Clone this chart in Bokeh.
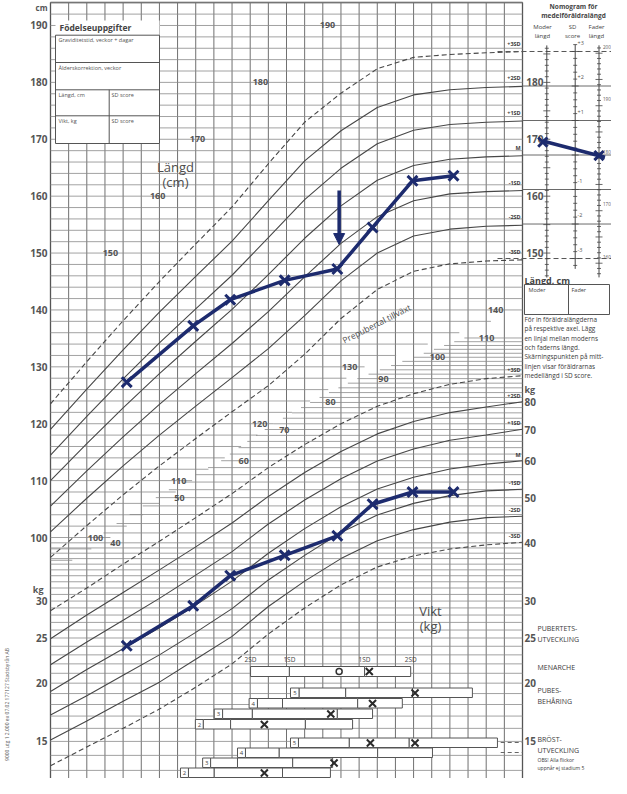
import numpy as np
from bokeh.plotting import figure
from bokeh.models import Range1d, LogScale, Arrow, NormalHead
from bokeh.embed import file_html
from bokeh.resources import INLINE
from bokeh.core.properties import value

# ---------------- data ----------------
ages = [5, 6, 7, 8, 9, 10, 11, 12, 13, 14, 15, 16, 17, 18]

# height reference curves (cm)
h_p3 = [123.5, 130.9, 138.1, 145.0, 151.6, 158.1, 165.7, 173.0, 178.1, 182.4, 184.4, 184.9, 185.2, 185.4]
h_p2 = [119.0, 126.1, 133.0, 139.6, 145.9, 152.1, 159.2, 166.2, 171.5, 175.6, 177.8, 178.7, 179.1, 179.3]
h_p1 = [114.5, 121.3, 127.9, 134.2, 140.2, 146.1, 152.7, 159.4, 164.9, 169.2, 171.6, 172.6, 173.0, 173.2]
h_m = [110.0, 116.5, 122.8, 128.8, 134.5, 140.1, 146.2, 152.6, 158.3, 162.8, 165.4, 166.5, 166.9, 167.1]
h_m1 = [105.5, 111.7, 117.7, 123.4, 128.8, 134.1, 139.7, 145.8, 151.7, 156.4, 159.2, 160.4, 160.8, 161.0]
h_m2 = [101.0, 106.9, 112.6, 118.0, 123.1, 128.1, 133.2, 139.0, 145.1, 150.0, 153.0, 154.2, 154.7, 154.9]
h_m3 = [96.5, 102.1, 107.5, 112.6, 117.4, 122.1, 126.7, 132.2, 138.5, 143.6, 146.8, 148.1, 148.6, 148.8]

# weight reference curves (kg)
w_p3 = [28.6, 32.0, 36.0, 40.3, 45.3, 51.0, 58.0, 65.0, 72.0, 78.5, 83.5, 87.5, 90.0, 91.3]
w_p2 = [24.9, 28.0, 31.3, 35.0, 39.2, 44.1, 50.3, 56.6, 62.8, 68.5, 72.8, 76.1, 78.2, 80.3]
w_p1 = [21.9, 24.5, 27.3, 30.4, 34.1, 38.3, 43.9, 49.4, 54.9, 59.9, 63.6, 66.4, 68.1, 70.1]
w_m = [19.2, 21.4, 23.7, 26.3, 29.4, 33.1, 38.0, 42.9, 47.8, 52.2, 55.3, 57.6, 59.0, 60.0]
w_m1 = [17.1, 18.8, 20.8, 23.0, 25.7, 28.9, 33.3, 37.6, 42.1, 45.9, 48.6, 50.5, 51.7, 52.1]
w_m2 = [15.1, 16.6, 18.3, 20.1, 22.5, 25.2, 29.2, 33.1, 37.0, 40.4, 42.7, 44.3, 45.3, 45.6]
w_m3 = [13.3, 14.6, 16.0, 17.6, 19.6, 22.0, 25.5, 29.0, 32.5, 35.5, 37.5, 38.8, 39.6, 40.1]

sd_names = ["+3SD", "+2SD", "+1SD", "M", "-1SD", "-2SD", "-3SD"]

# the girl's measurements
visit_age = [7.1, 8.93, 9.95, 11.45, 12.9, 13.87, 14.97, 16.1]
girl_height = [127.3, 137.2, 141.8, 145.2, 147.2, 154.5, 162.7, 163.6]
girl_weight = [24.05, 29.3, 34.0, 37.6, 41.4, 48.4, 51.4, 51.4]
arrow_age = 12.95
arrow_from, arrow_to = 161.0, 151.5

# parents (nomogram)
mother_height = 169.5
father_height = 180.5

# pubertal development (ages)
menarche_bounds = [10.51, 11.58, 13.65, 14.92]
menarche_mean = 12.95
menarche_mark = [13.78]
pubes_stage = ["2", "3", "4", "5"]
pubes_start = [8.99, 9.51, 10.47, 11.61]
pubes_bounds = [[9.21, 9.96, 12.02, 13.32], [9.74, 10.56, 12.90, 13.87],
                [10.70, 11.39, 13.46, 14.69], [11.85, 13.13, 14.97, 16.62]]
pubes_marks = [[10.89], [12.72], [13.87], [15.04]]
breast_stage = ["2", "3", "4", "5"]
breast_start = [8.58, 9.19, 10.15, 11.61]
breast_bounds = [[8.80, 9.51, 11.39, 12.71], [9.41, 10.15, 11.67, 12.77],
                 [10.37, 11.30, 14.01, 15.52], [11.83, 13.23, 14.88, 17.31]]
breast_marks = [[10.89], [12.81], [], [13.81, 15.04]]

# axis / scale labels
height_ticks = [100, 110, 120, 130, 140, 150, 160, 170, 180, 190]
weight_ticks_left = [15, 20, 25, 30]
weight_ticks_right = [15, 20, 25, 30, 40, 50, 60, 70, 80]
inner_h_labels = [100, 110, 120, 130, 140, 150, 160, 170, 180, 190]
inner_h_x = [6.24, 8.53, 10.76, 13.24, 17.26, 6.65, 7.95, 9.05, 10.78, 12.63]
inner_w_labels = [40, 50, 60, 70, 80, 90, 100, 110]
inner_w_x = [6.79, 8.55, 10.32, 11.44, 12.71, 14.17, 15.66, 17.01]
mother_ticks = [150, 160, 170, 180]
father_ticks = [160, 170, 180, 190, 200]
sd_ticks = [3, 2, 1, -1, -2, -3]

# ---------------- figure ----------------
FONT = value("Open Sans")
INK = "#3c3c3c"
GRIDC = "#8a8a8a"
CURVE = "#474747"
NAVY = "#1d2b6e"
LAB = "#4d4d4d"

p = figure(width=611, height=778, x_range=Range1d(3.6229, 20.4512), y_range=Range1d(57.64, 194.394),
           x_axis_location=None, y_axis_location=None, output_backend="svg", toolbar_location=None,
           min_border=0, outline_line_color=None, background_fill_color="white",
           border_fill_color="white")
p.grid.visible = False
p.extra_x_ranges = {"px": Range1d(8, 619)}
p.extra_y_ranges = {"px": Range1d(786, 8), "kg": Range1d(12.49, 582.4),
                    "fader": Range1d(61.85, 210.04), "sd": Range1d(-18.07, 4.478)}
p.extra_y_scales = {"kg": LogScale()}


def txt(x, y, s, size, align="left", bold=False, color=INK, xr="px", yr="px", baseline="middle", angle=0.0):
    p.text(x=[x], y=[y], text=[s], x_range_name=xr, y_range_name=yr, text_font=FONT,
           text_font_size=f"{size}px", text_font_style="bold" if bold else "normal",
           text_align=align, text_baseline=baseline, text_color=color, angle=angle)


# vertical grid (half years)
vg = np.arange(5, 18.01, 0.5)
p.segment(x0=vg, y0=10, x1=vg, y1=786, y_range_name="px", line_color="#707070", line_width=1)
p.segment(x0=[5, 18], y0=10, x1=[5, 18], y1=786, y_range_name="px", line_color="#555555", line_width=1.3)
p.segment(x0=5, y0=10, x1=18, y1=10, y_range_name="px", line_color="#555555", line_width=1.3)

# horizontal height lines (2 cm), ending on the staircase
hs = np.arange(96, 195, 2)
h_end = np.interp(hs, [96, 100, 110, 120, 130, 140], [5.6, 6.65, 8.9, 11.15, 13.65, 18.0])
p.segment(x0=5, y0=hs, x1=h_end, y1=hs, line_color=GRIDC, line_width=0.8)
# horizontal weight lines
w_low = np.arange(13, 41, 1)
p.segment(x0=5, y0=w_low, x1=18, y1=w_low, y_range_name="kg", line_color=GRIDC, line_width=0.8)
w_high = np.arange(42, 111, 2)
w_start = np.interp(w_high, [40, 50, 60, 70, 80, 90, 100, 110],
                    [6.1, 7.9, 9.7, 10.9, 12.15, 13.45, 15.0, 16.4])
p.segment(x0=w_start, y0=w_high, x1=18, y1=w_high, y_range_name="kg", line_color=GRIDC, line_width=0.8)

# reference curves
for i, c in enumerate([h_p3, h_p2, h_p1, h_m, h_m1, h_m2, h_m3]):
    dash = "5 3" if i in (0, 6) else "solid"
    p.line(ages, c, line_color=CURVE, line_width=1.1, line_dash=dash)
for i, c in enumerate([w_p3, w_p2, w_p1, w_m, w_m1, w_m2, w_m3]):
    dash = "5 3" if i in (0, 6) else "solid"
    p.line(ages, c, line_color=CURVE, line_width=1.1, line_dash=dash, y_range_name="kg")

# SD labels at curve ends
hl_y = [c[-1] for c in [h_p3, h_p2, h_p1, h_m, h_m1, h_m2, h_m3]]
wl_y = [c[-1] for c in [w_p3, w_p2, w_p1, w_m, w_m1, w_m2, w_m3]]
p.text(x=[17.95] * 7, y=[v + 1.4 for v in hl_y], text=sd_names, text_font=FONT, text_font_size="5.5px",
       text_align="right", text_baseline="middle", text_color=INK, text_font_style="bold")
p.text(x=[17.95] * 7, y=[v * 1.03 for v in wl_y], text=sd_names, y_range_name="kg", text_font=FONT,
       text_font_size="5.5px", text_align="right", text_baseline="middle", text_color=INK,
       text_font_style="bold")

# inner labels
p.text(x=inner_h_x, y=inner_h_labels, text=[str(v) for v in inner_h_labels], text_font=FONT,
       text_font_size="9px", text_font_style="bold", text_align="center", text_baseline="middle",
       text_color="#555555")
p.text(x=inner_w_x, y=inner_w_labels, text=[str(v) for v in inner_w_labels], y_range_name="kg",
       text_font=FONT, text_font_size="9px", text_font_style="bold", text_align="center",
       text_baseline="middle", text_color="#555555")

# left scale labels
p.text(x=[55] * len(height_ticks), y=height_ticks, text=[str(v) for v in height_ticks], x_range_name="px",
       text_font=FONT, text_font_size="10px", text_font_style="bold", text_align="right",
       text_baseline="middle", text_color="#555555")
txt(55, 15, "cm", 8, align="right", bold=True, color="#555555")
p.text(x=[55] * len(weight_ticks_left), y=weight_ticks_left, text=[str(v) for v in weight_ticks_left],
       x_range_name="px", y_range_name="kg", text_font=FONT, text_font_size="10px",
       text_font_style="bold", text_align="right", text_baseline="middle", text_color="#555555")
txt(51, 597, "kg", 9, align="right", bold=True, color="#555555")
# right weight labels
p.text(x=[532] * len(weight_ticks_right), y=weight_ticks_right, text=[str(v) for v in weight_ticks_right],
       x_range_name="px", y_range_name="kg", text_font=FONT, text_font_size="10px",
       text_font_style="bold", text_align="left", text_baseline="middle", text_color="#555555")
txt(532, 397, "kg", 9, bold=True, color="#555555")

# axis titles
txt(183, 174, "Längd", 13, align="center", color=LAB)
txt(183, 189, "(cm)", 13, align="center", color=LAB)
txt(438, 618, "Vikt", 13, align="center", color=LAB)
txt(438, 633, "(kg)", 13, align="center", color=LAB)
txt(384, 331, "Prepubertal tillväxt", 8.5, align="center", color=LAB, angle=0.47)

# birth data box
p.quad(left=63, right=167, top=28, bottom=151, x_range_name="px", y_range_name="px",
       fill_color="white", line_color=None)
p.quad(left=63, right=167, top=42.7, bottom=151, x_range_name="px", y_range_name="px",
       fill_color="white", line_color="#555555", line_width=1)
p.segment(x0=63, y0=[70, 97.3, 123.3], x1=167, y1=[70, 97.3, 123.3], x_range_name="px",
          y_range_name="px", line_color="#555555", line_width=1)
p.segment(x0=116.7, y0=97.3, x1=116.7, y1=151, x_range_name="px", y_range_name="px",
          line_color="#555555", line_width=1)
txt(67, 35, "Födelseuppgifter", 8.5, bold=True, color="#444444")
txt(66, 47, "Graviditetstid, veckor + dagar", 5.5, color="#555555")
txt(66, 75, "Ålderskorrektion, veckor", 5.5, color="#555555")
txt(66, 102, "Längd, cm", 5.5, color="#555555")
txt(119, 102, "SD score", 5.5, color="#555555")
txt(66, 128, "Vikt, kg", 5.5, color="#555555")
txt(119, 128, "SD score", 5.5, color="#555555")

# ---------------- nomogram ----------------
NX_M, NX_S, NX_F = 554.3, 582.7, 606.5
# SD level lines across the nomogram
p.segment(x0=530, y0=[2, 1, 0, -1, -2], x1=619, y1=[2, 1, 0, -1, -2], x_range_name="px",
          y_range_name="sd", line_color="#6a6a6a", line_width=1)
p.segment(x0=505, y0=[3, -3], x1=619, y1=[3, -3], x_range_name="px", y_range_name="sd",
          line_color="#555555", line_width=1, line_dash="5 3")
# axes
p.segment(x0=NX_M, y0=145.7, x1=NX_M, y1=186.5, x_range_name="px", line_color="#444444", line_width=1)
p.segment(x0=NX_F, y0=157.3, x1=NX_F, y1=201.5, x_range_name="px", y_range_name="fader",
          line_color="#444444", line_width=1)
p.segment(x0=NX_S, y0=-3.3, x1=NX_S, y1=3.2, x_range_name="px", y_range_name="sd",
          line_color="#444444", line_width=1)
mt = np.arange(146, 187, 1)
mlen = np.where(mt % 5 == 0, 3.5, 2.0)
p.segment(x0=NX_M - mlen, y0=mt, x1=NX_M + mlen, y1=mt, x_range_name="px", line_color="#444444",
          line_width=0.8)
ft = np.arange(158, 202, 1)
flen = np.where(ft % 5 == 0, 3.5, 2.0)
p.segment(x0=NX_F - flen, y0=ft, x1=NX_F + flen, y1=ft, x_range_name="px", y_range_name="fader",
          line_color="#444444", line_width=0.8)
st = np.round(np.arange(-3.2, 3.21, 0.2), 1)
slen = np.where(np.isclose(st % 1, 0) | np.isclose(st % 1, 1), 3.5, 2.0)
p.segment(x0=NX_S - slen, y0=st, x1=NX_S + slen, y1=st, x_range_name="px", y_range_name="sd",
          line_color="#444444", line_width=0.8)
p.text(x=[551] * len(mother_ticks), y=mother_ticks, text=[str(v) for v in mother_ticks], x_range_name="px",
       text_font=FONT, text_font_size="10px", text_font_style="bold", text_align="right",
       text_baseline="middle", text_color="#555555")
p.text(x=[610.5] * len(father_ticks), y=[v + 1.2 for v in father_ticks], text=[str(v) for v in father_ticks],
       x_range_name="px", y_range_name="fader", text_font=FONT, text_font_size="4.5px", text_align="left",
       text_baseline="middle", text_color="#555555")
p.text(x=[585] * len(sd_ticks), y=[v + 0.25 for v in sd_ticks],
       text=[("+" if v > 0 else "-") + str(abs(v)) for v in sd_ticks], x_range_name="px",
       y_range_name="sd", text_font=FONT, text_font_size="5.5px", text_align="left",
       text_baseline="middle", text_color="#555555")
txt(581, 14, "Nomogram för", 6.5, align="center", bold=True, color="#444444")
txt(581, 23, "medelföräldralängd", 6.5, align="center", bold=True, color="#444444")
for xx, a, b in [(550, "Moder", "längd"), (580, "SD", "score"), (604, "Fader", "längd")]:
    txt(xx, 34, a, 6, align="center", color="#444444")
    txt(xx, 43, b, 6, align="center", color="#444444")


# parents' line: father's scale mapped onto the main height scale
def fader_pos(f):
    page = 60.7 + (200 - f) * 5.25
    return 190 - (page - 33) / 5.689


p.line(x=[NX_M - 4, NX_F + 6], y=[mother_height + 0.2, fader_pos(father_height) - 0.3], x_range_name="px",
       line_color=NAVY, line_width=3.5)
p.scatter(x=[NX_M - 4, NX_F], y=[mother_height, fader_pos(father_height)], x_range_name="px",
          marker="x", size=13, line_color=NAVY, line_width=3)

txt(532, 288, "Längd, cm", 9, bold=True, color="#444444")
p.quad(left=532, right=617, top=292, bottom=322, x_range_name="px", y_range_name="px",
       fill_color="white", line_color="#555555", line_width=1)
p.segment(x0=576, y0=292, x1=576, y1=322, x_range_name="px", y_range_name="px", line_color="#555555")
txt(536, 297, "Moder", 5.5, color="#444444")
txt(579, 297, "Fader", 5.5, color="#444444")
para = ["För in föräldralängderna", "på respektive axel. Lägg", "en linjal mellan moderns",
        "och faderns längd.", "Skärningspunkten på mitt-", "linjen visar föräldrarnas",
        "medellängd i SD score."]
for i, s in enumerate(para):
    txt(532, 327 + i * 9.3, s, 6.4, color="#3a3a3a")

# ---------------- puberty panel ----------------
txt(545, 636, "PUBERTETS-", 7, color="#3a3a3a")
txt(545, 647, "UTVECKLING", 7, color="#3a3a3a")
txt(545, 675, "MENARCHE", 7, color="#3a3a3a")
txt(545, 698, "PUBES-", 7, color="#3a3a3a")
txt(545, 709, "BEHÅRING", 7, color="#3a3a3a")
txt(545, 747, "BRÖST-", 7, color="#3a3a3a")
txt(545, 758, "UTVECKLING", 7, color="#3a3a3a")
txt(545, 767.5, "OBS! Alla flickor", 5, color="#3a3a3a")
txt(545, 775, "uppnår ej stadium 5", 5, color="#3a3a3a")

BOX = "#555555"
# menarche
p.quad(left=menarche_bounds[:-1], right=menarche_bounds[1:], top=674, bottom=684, y_range_name="px",
       fill_color="white", line_color=BOX, line_width=1)
p.text(x=menarche_bounds, y=[667] * 4, text=["2SD", "1SD", "1SD", "2SD"], y_range_name="px",
       text_font=FONT, text_font_size="6.5px", text_align="center", text_baseline="middle",
       text_color="#444444")
p.scatter(x=[menarche_mean], y=[679], y_range_name="px", marker="circle", size=6, fill_color="white",
          line_color="#333333", line_width=1.5)
p.scatter(x=menarche_mark, y=[679], y_range_name="px", marker="x", size=10, line_color="#2a2a2a",
          line_width=2)


def stage_rows(stages, starts, bounds, marks, tops):
    for st_, s0, b, m, top in zip(stages, starts, bounds, marks, tops):
        bot = top + 9.5
        p.quad(left=[s0], right=[b[0]], top=top, bottom=bot, y_range_name="px", fill_color="white",
               line_color=BOX, line_width=1)
        p.quad(left=b[:-1], right=b[1:], top=top, bottom=bot, y_range_name="px", fill_color="white",
               line_color=BOX, line_width=1)
        p.text(x=[(s0 + b[0]) / 2], y=[top + 5], text=[st_], y_range_name="px", text_font=FONT,
               text_font_size="6px", text_align="center", text_baseline="middle", text_color="#444444")
        if m:
            p.scatter(x=m, y=[top + 5] * len(m), y_range_name="px", marker="x", size=10,
                      line_color="#2a2a2a", line_width=2)


stage_rows(pubes_stage, pubes_start, pubes_bounds, pubes_marks, [727, 716.5, 706, 695.5])
stage_rows(breast_stage, breast_start, breast_bounds, breast_marks, [775.5, 765.5, 755.5, 745.5])
p.segment(x0=17.4, y0=[750, 760], x1=18.0, y1=[750, 760], y_range_name="px", line_color="#666666",
          line_dash="4 3")

txt(14, 712, "9000 utg 1 2.000 ex 07.02 177127 Stadsbyrån AB", 5, align="center", color="#555555",
    angle=np.pi / 2)

# ---------------- the girl's data ----------------
p.line(visit_age, girl_height, line_color=NAVY, line_width=3.5)
p.scatter(visit_age, girl_height, marker="x", size=14, line_color=NAVY, line_width=3)
p.line(visit_age, girl_weight, y_range_name="kg", line_color=NAVY, line_width=3.5)
p.scatter(visit_age, girl_weight, y_range_name="kg", marker="x", size=14, line_color=NAVY, line_width=3)
p.add_layout(Arrow(x_start=arrow_age, y_start=arrow_from, x_end=arrow_age, y_end=arrow_to,
                   line_color=NAVY, line_width=3.5,
                   end=NormalHead(size=11, fill_color=NAVY, line_color=NAVY)))

open("out.html", "w").write(file_html(p, INLINE, "Tillväxtkurva"))
